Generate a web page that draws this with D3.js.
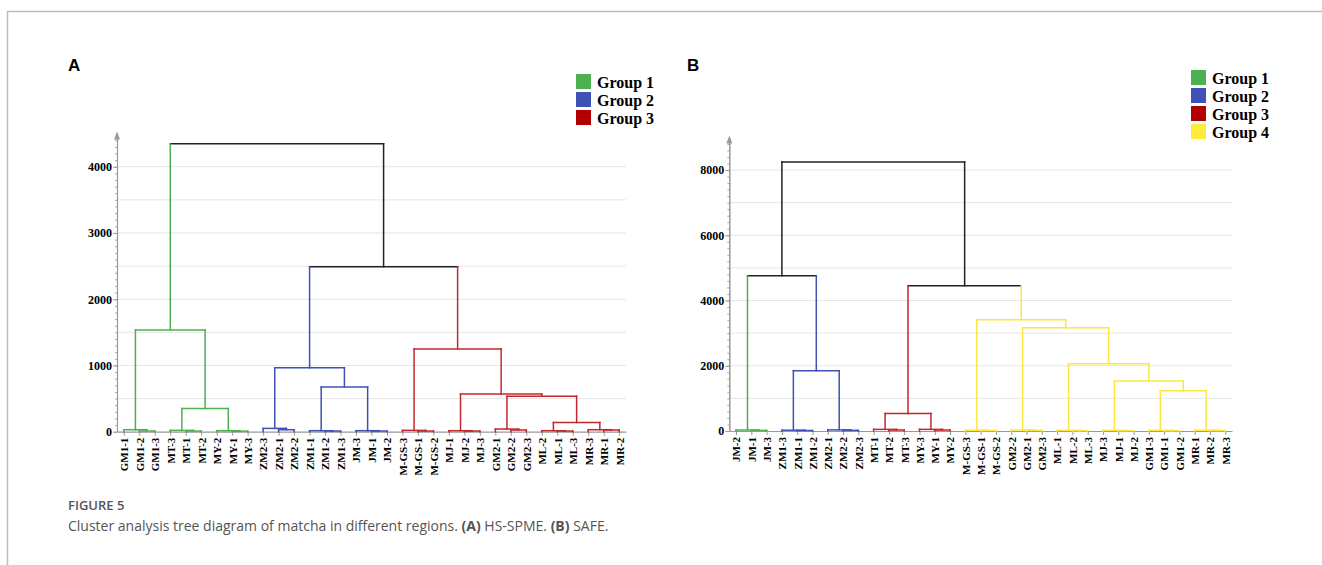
<!DOCTYPE html>
<html>
<head>
<meta charset="utf-8">
<script src="https://cdn.jsdelivr.net/npm/d3@7"></script>
<style>
  body { margin: 0; background: #fff; }
  svg { display: block; }
</style>
</head>
<body>
<svg width="1322" height="565"></svg>
<script>
// leaf order + group of each leaf
let leavesA = ["GM1-1","GM1-2","GM1-3","MT-3","MT-1","MT-2","MY-2","MY-1","MY-3",
               "ZM2-3","ZM2-1","ZM2-2","ZM1-1","ZM1-2","ZM1-3","JM-3","JM-1","JM-2",
               "M-GS-3","M-GS-1","M-GS-2","MJ-1","MJ-2","MJ-3","GM2-1","GM2-2","GM2-3",
               "ML-2","ML-1","ML-3","MR-3","MR-1","MR-2"]
let groupsA = [1,1,1,1,1,1,1,1,1, 2,2,2,2,2,2,2,2,2, 3,3,3,3,3,3,3,3,3,3,3,3,3,3,3]

// [id, left child, right child, height]
let mergesA = [
  ["gm1a", "GM1-2", "GM1-3", 10], ["gm1", "GM1-1", "gm1a", 30],
  ["mta", "MT-1", "MT-2", 10], ["mt", "MT-3", "mta", 20],
  ["mya", "MY-1", "MY-3", 8], ["my", "MY-2", "mya", 15],
  ["mtmy", "mt", "my", 350],
  ["g1", "gm1", "mtmy", 1535],
  ["zm2a", "ZM2-1", "ZM2-2", 30], ["zm2", "ZM2-3", "zm2a", 50],
  ["zm1a", "ZM1-2", "ZM1-3", 10], ["zm1", "ZM1-1", "zm1a", 15],
  ["jma", "JM-1", "JM-2", 10], ["jm", "JM-3", "jma", 15],
  ["zm1jm", "zm1", "jm", 675],
  ["g2", "zm2", "zm1jm", 965],
  ["gsa", "M-GS-1", "M-GS-2", 10], ["gs", "M-GS-3", "gsa", 20],
  ["mja", "MJ-2", "MJ-3", 10], ["mj", "MJ-1", "mja", 15],
  ["gm2a", "GM2-2", "GM2-3", 25], ["gm2", "GM2-1", "gm2a", 40],
  ["mla", "ML-1", "ML-3", 10], ["ml", "ML-2", "mla", 15],
  ["mra", "MR-1", "MR-2", 25], ["mr", "MR-3", "mra", 30],
  ["mlmr", "ml", "mr", 140],
  ["gm2r", "gm2", "mlmr", 535],
  ["mjr", "mj", "gm2r", 570],
  ["g3", "gs", "mjr", 1250],
  ["g23", "g2", "g3", 2490],
  ["topA", "g1", "g23", 4345]
]

let leavesB = ["JM-2","JM-1","JM-3","ZM1-3","ZM1-1","ZM1-2","ZM2-1","ZM2-2","ZM2-3",
               "MT-1","MT-2","MT-3","MY-3","MY-1","MY-2","M-GS-3","M-GS-1","M-GS-2",
               "GM2-2","GM2-1","GM2-3","ML-1","ML-2","ML-3","MJ-3","MJ-1","MJ-2",
               "GM1-3","GM1-1","GM1-2","MR-1","MR-2","MR-3"]
let groupsB = [1,1,1, 2,2,2,2,2,2, 3,3,3,3,3,3, 4,4,4,4,4,4,4,4,4,4,4,4,4,4,4,4,4,4]

let mergesB = [
  ["jma", "JM-1", "JM-3", 20], ["jm", "JM-2", "jma", 30],
  ["zm1a", "ZM1-1", "ZM1-2", 15], ["zm1", "ZM1-3", "zm1a", 25],
  ["zm2a", "ZM2-2", "ZM2-3", 20], ["zm2", "ZM2-1", "zm2a", 35],
  ["g2", "zm1", "zm2", 1850],
  ["g12", "jm", "g2", 4760],
  ["mta", "MT-2", "MT-3", 30], ["mt", "MT-1", "mta", 50],
  ["mya", "MY-1", "MY-2", 30], ["my", "MY-3", "mya", 50],
  ["g3", "mt", "my", 540],
  ["gsa", "M-GS-1", "M-GS-2", 15], ["gs", "M-GS-3", "gsa", 25],
  ["gm2a", "GM2-1", "GM2-3", 20], ["gm2", "GM2-2", "gm2a", 30],
  ["mla", "ML-2", "ML-3", 10], ["ml", "ML-1", "mla", 20],
  ["mja", "MJ-1", "MJ-2", 10], ["mj", "MJ-3", "mja", 20],
  ["gm1a", "GM1-1", "GM1-2", 10], ["gm1", "GM1-3", "gm1a", 20],
  ["mra", "MR-2", "MR-3", 15], ["mr", "MR-1", "mra", 25],
  ["gm1mr", "gm1", "mr", 1235],
  ["mjr", "mj", "gm1mr", 1535],
  ["mlr", "ml", "mjr", 2065],
  ["gm2r", "gm2", "mlr", 3165],
  ["g4", "gs", "gm2r", 3410],
  ["g34", "g3", "g4", 4455],
  ["topB", "g12", "g34", 8245]
]

let ticksA = [0, 1000, 2000, 3000, 4000]
let ticksB = [0, 2000, 4000, 6000, 8000]

let groupNamesA = ["Group 1", "Group 2", "Group 3"]
let groupNamesB = ["Group 1", "Group 2", "Group 3", "Group 4"]

let lineColors = {1: "#4caf50", 2: "#3f51b5", 3: "#c0282d", 4: "#fbe83a", 0: "#222"}
let boxColors = {1: "#4caf50", 2: "#3f51b5", 3: "#b00000", 4: "#ffeb3b"}

let svg = d3.select("svg")
let serif = "'Liberation Serif', 'Times New Roman', serif"

// figure frame
svg.append("line").attr("x1", 7).attr("x2", 1322).attr("y1", 11.5).attr("y2", 11.5)
   .attr("stroke", "#bdbdbd").attr("stroke-width", 1.5)
svg.append("line").attr("x1", 7.5).attr("x2", 7.5).attr("y1", 11).attr("y2", 565)
   .attr("stroke", "#bdbdbd").attr("stroke-width", 1.5)

let drawPanel = (opt) => {
  let xScale = d3.scalePoint()
                 .domain(opt.leaves)
                 .range([opt.left, opt.right])
                 .padding(0.44)
  let yScale = d3.scaleLinear()
                 .domain([0, opt.max])
                 .range([opt.bottom, opt.top])

  let g = svg.append("g")

  // grid
  g.selectAll(".grid")
   .data(d3.range(opt.grid, opt.max, opt.grid))
   .enter()
   .append("line")
   .attr("x1", opt.left).attr("x2", opt.right)
   .attr("y1", d => yScale(d)).attr("y2", d => yScale(d))
   .attr("stroke", "#e6e6e6").attr("stroke-width", 1)

  // minor ticks on y axis
  g.append("g")
   .attr("transform", "translate(" + opt.left + ",0)")
   .call(d3.axisLeft(yScale).tickValues(d3.range(0, opt.max, opt.minor)).tickSize(2).tickSizeOuter(0).tickFormat(""))
   .call(a => a.selectAll("line").attr("stroke", "#aaa"))
   .call(a => a.select(".domain").attr("stroke", "#999"))

  let yAxis = d3.axisLeft(yScale)
                .tickValues(opt.ticks)
                .tickSize(4)
                .tickSizeOuter(0)
                .tickPadding(1)
                .tickFormat(d3.format("d"))
  g.append("g")
   .attr("transform", "translate(" + opt.left + ",0)")
   .call(yAxis)
   .call(a => a.select(".domain").attr("stroke", "#999").attr("stroke-width", 1.2))
   .call(a => a.selectAll(".tick line").attr("stroke", "#999"))
   .call(a => a.selectAll("text").style("font-family", serif).style("font-weight", "bold")
                .style("font-size", "12px").attr("fill", "#000"))

  // arrow on y axis
  g.append("path")
   .attr("d", "M" + opt.left + "," + (opt.top - 2) + " l-3,8 l6,0 z")
   .attr("fill", "#999")

  let xAxis = d3.axisBottom(xScale).tickSize(4).tickSizeOuter(0).tickPadding(2)
  g.append("g")
   .attr("transform", "translate(0," + opt.bottom + ")")
   .call(xAxis)
   .call(a => a.select(".domain").attr("stroke", "#999").attr("stroke-width", 1.2))
   .call(a => a.selectAll(".tick line").attr("stroke", "#999"))
   .call(a => a.selectAll("text")
                .attr("transform", "rotate(-90)")
                .attr("text-anchor", "end")
                .attr("x", -6).attr("y", 0).attr("dy", "0.35em")
                .style("font-family", serif).style("font-weight", "bold")
                .style("font-size", "11px").attr("fill", "#000"))

  // tree
  let nodes = {}
  opt.leaves.forEach((name, i) => {
    nodes[name] = {x: xScale(name), h: 0, group: opt.groups[i]}
  })
  let links = []
  opt.merges.forEach(m => {
    let a = nodes[m[1]], b = nodes[m[2]]
    let grp = a.group === b.group ? a.group : 0
    nodes[m[0]] = {x: (a.x + b.x) / 2, h: m[3], group: grp}
    links.push({x1: a.x, x2: b.x, y1: m[3], y2: m[3], c: grp})
    links.push({x1: a.x, x2: a.x, y1: m[3], y2: a.h, c: a.group})
    links.push({x1: b.x, x2: b.x, y1: m[3], y2: b.h, c: b.group})
  })
  g.selectAll(".link")
   .data(links)
   .enter()
   .append("line")
   .attr("x1", d => d.x1).attr("x2", d => d.x2)
   .attr("y1", d => yScale(d.y1)).attr("y2", d => yScale(d.y2))
   .attr("stroke", d => lineColors[d.c])
   .attr("stroke-width", 1.5)
   .attr("stroke-linecap", "square")

  // panel letter
  svg.append("text")
     .attr("x", opt.letterX).attr("y", 71)
     .style("font-family", "'Liberation Sans', Arial, sans-serif")
     .style("font-weight", "bold").style("font-size", "17px")
     .text(opt.letter)

  // legend
  let leg = svg.append("g").attr("transform", "translate(" + opt.legX + "," + opt.legY + ")")
  opt.names.forEach((n, i) => {
    leg.append("rect").attr("x", 0).attr("y", i * 18).attr("width", 15).attr("height", 15)
       .attr("fill", boxColors[i + 1])
    leg.append("text").attr("x", 21).attr("y", i * 18 + 13.5)
       .style("font-family", serif).style("font-weight", "bold").style("font-size", "16px")
       .text(n)
  })
}

drawPanel({leaves: leavesA, groups: groupsA, merges: mergesA, ticks: ticksA,
           max: 4500, grid: 500, minor: 100,
           left: 117, right: 626, bottom: 431.7, top: 133.6,
           letter: "A", letterX: 68, names: groupNamesA, legX: 576, legY: 74})

drawPanel({leaves: leavesB, groups: groupsB, merges: mergesB, ticks: ticksB,
           max: 9000, grid: 1000, minor: 200,
           left: 729.3, right: 1232, bottom: 431, top: 137.4,
           letter: "B", letterX: 687, names: groupNamesB, legX: 1191, legY: 70})

// caption
svg.append("text")
   .attr("x", 68).attr("y", 510)
   .style("font-family", "'Open Sans', sans-serif").style("font-size", "13px")
   .style("font-weight", "600").attr("fill", "#555")
   .text("FIGURE 5")
let cap = svg.append("text")
   .attr("x", 68).attr("y", 531)
   .style("font-family", "'Open Sans', sans-serif").style("font-size", "14px")
   .attr("fill", "#555")
cap.append("tspan").text("Cluster analysis tree diagram of matcha in different regions. ")
cap.append("tspan").style("font-weight", "bold").text("(A)")
cap.append("tspan").text(" HS-SPME. ")
cap.append("tspan").style("font-weight", "bold").text("(B)")
cap.append("tspan").text(" SAFE.")
</script>
</body>
</html>
